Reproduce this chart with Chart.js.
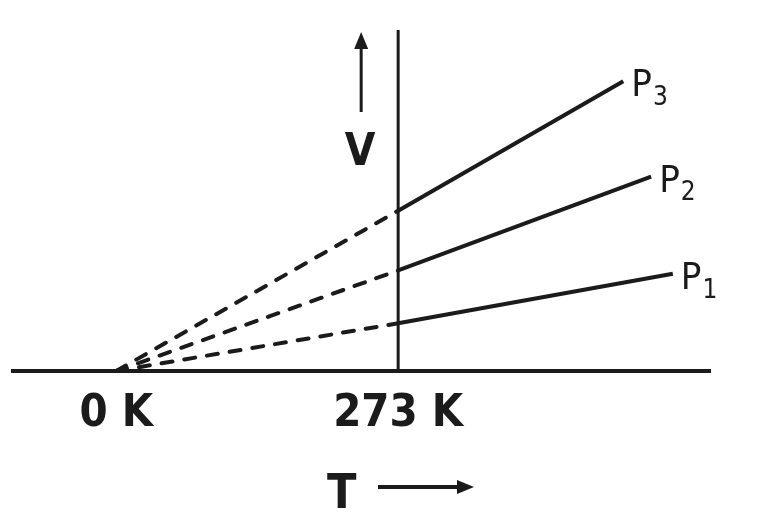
<!DOCTYPE html>
<html lang="en">
<head>
    <meta charset="UTF-8">
    <title>Charles' law: V vs T</title>
    <script src="https://cdn.jsdelivr.net/npm/chart.js"></script>
    <style>
        html, body { margin: 0; padding: 0; background: #fff; }
        #wrap { width: 768px; height: 520px; }
    </style>
</head>
<body>
    <div id="wrap"><canvas id="chart" width="768" height="520"></canvas></div>
    <script>
        // values (T in K, V in arbitrary units)
        const seriesNames = ["P1", "P2", "P3"];
        const tStart = [0, 0, 0];
        const tRef = 273;
        const vAtRef = [14, 29.5, 47];
        const tEnd = [539, 518, 491];
        const vEnd = [28.5, 57, 85];
        const tickValues = [0, 273];
        const tickLabels = ["0 K", "273 K"];
        const vMax = 100;

        const ink = "#1b1b1b";
        const narrow = "'Liberation Sans Narrow', 'DejaVu Sans Condensed', 'Liberation Sans', sans-serif";

        const datasets = [];
        seriesNames.forEach((name, i) => {
            // extrapolated part, dashed down to absolute zero
            datasets.push({
                label: name + " (extrapolated)",
                data: [{ x: tStart[i], y: 0 }, { x: tRef, y: vAtRef[i] }],
                borderColor: ink,
                borderWidth: 4,
                borderDash: [11, 12],
                borderCapStyle: "round",
                pointRadius: 0
            });
            // measured part
            datasets.push({
                label: name,
                data: [{ x: tRef, y: vAtRef[i] }, { x: tEnd[i], y: vEnd[i] }],
                borderColor: ink,
                borderWidth: 4,
                pointRadius: 0
            });
        });
        // the vertical line at 273 K
        datasets.push({
            label: "273 K",
            data: [{ x: tRef, y: 0 }, { x: tRef, y: vMax }],
            borderColor: ink,
            borderWidth: 3,
            pointRadius: 0
        });

        function arrow(ctx, x1, y1, x2, y2, head, half) {
            const a = Math.atan2(y2 - y1, x2 - x1);
            ctx.beginPath();
            ctx.moveTo(x1, y1);
            ctx.lineTo(x2 - head * Math.cos(a), y2 - head * Math.sin(a));
            ctx.stroke();
            ctx.beginPath();
            ctx.moveTo(x2, y2);
            ctx.lineTo(x2 - head * Math.cos(a) - half * Math.sin(a), y2 - head * Math.sin(a) + half * Math.cos(a));
            ctx.lineTo(x2 - head * Math.cos(a) + half * Math.sin(a), y2 - head * Math.sin(a) - half * Math.cos(a));
            ctx.closePath();
            ctx.fill();
        }

        const decorations = {
            id: "decorations",
            afterDraw(chart) {
                const { ctx, scales: { x, y } } = chart;
                ctx.save();
                ctx.fillStyle = ink;
                ctx.strokeStyle = ink;

                // P labels at the end of each line
                seriesNames.forEach((name, i) => {
                    const px = x.getPixelForValue(tEnd[i]) + 8;
                    const py = y.getPixelForValue(vEnd[i]) + 5;
                    ctx.font = "38px " + narrow;
                    ctx.textBaseline = "middle";
                    ctx.textAlign = "left";
                    ctx.fillText("P", px, py);
                    const w = ctx.measureText("P").width;
                    ctx.font = "26px " + narrow;
                    ctx.fillText(name.slice(1), px + w + 1, py + 12);
                });

                // V with up arrow
                const vx = x.getPixelForValue(tRef) - 37;
                ctx.lineWidth = 3;
                arrow(ctx, vx, 112, vx, 32, 17, 7);
                ctx.font = "bold 44px " + narrow;
                ctx.textAlign = "center";
                ctx.textBaseline = "alphabetic";
                ctx.fillText("V", vx - 1, 165);

                // T with right arrow
                ctx.font = "bold 48px " + narrow;
                ctx.textAlign = "left";
                ctx.fillText("T", 327, 508);
                ctx.lineWidth = 4;
                arrow(ctx, 378, 487, 474, 487, 17, 7);
                ctx.restore();
            }
        };

        new Chart(document.getElementById("chart"), {
            type: "line",
            data: { datasets },
            options: {
                responsive: false,
                animation: false,
                events: [],
                layout: { padding: { left: 13, right: 58, top: 30, bottom: 0 } },
                plugins: { legend: { display: false }, tooltip: { enabled: false } },
                scales: {
                    x: {
                        type: "linear",
                        min: -100,
                        max: 575,
                        afterBuildTicks: (scale) => { scale.ticks = tickValues.map(v => ({ value: v })); },
                        afterFit: (scale) => { scale.height = 149; },
                        ticks: {
                            autoSkip: false,
                            maxRotation: 0,
                            padding: 16,
                            color: ink,
                            font: { family: narrow, size: 45, weight: "bold" },
                            callback: (v) => tickLabels[tickValues.indexOf(v)]
                        },
                        grid: { drawOnChartArea: false, drawTicks: false },
                        border: { display: true, color: ink, width: 4 }
                    },
                    y: {
                        display: false,
                        min: 0,
                        max: vMax
                    }
                }
            },
            plugins: [decorations]
        });
    </script>
</body>
</html>
